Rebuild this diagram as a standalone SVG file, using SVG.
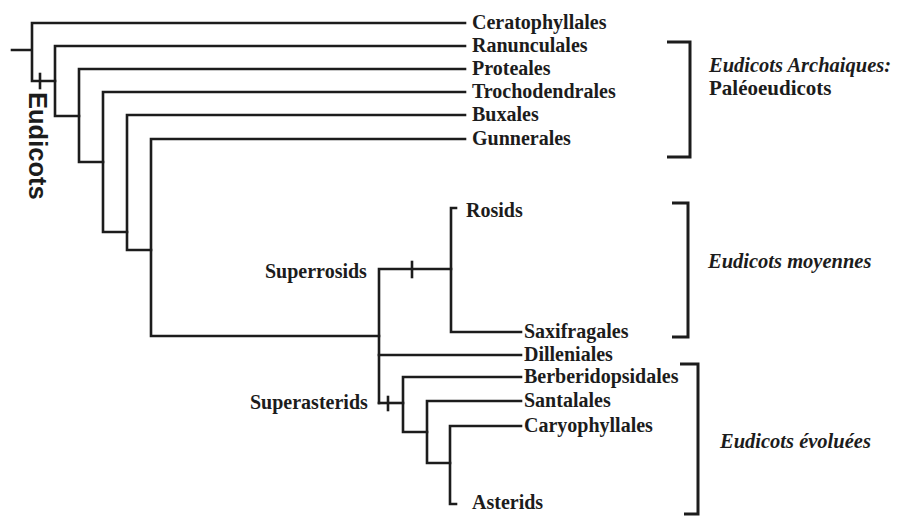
<svg xmlns="http://www.w3.org/2000/svg" width="898" height="517" viewBox="0 0 898 517">
  <style>
    .edge { fill: none; stroke: #1c1c1c; stroke-width: 2.6; stroke-linecap: square; }
    .brace { fill: none; stroke: #1c1c1c; stroke-width: 3; }
    .taxon { font-family: "Liberation Serif", "Times New Roman", serif; font-weight: bold; font-size: 20px; fill: #1c1c1c; }
    .group { font-family: "Liberation Serif", "Times New Roman", serif; font-weight: bold; font-style: italic; font-size: 20.5px; fill: #1c1c1c; }
    .clade { font-family: "Liberation Sans", Arial, sans-serif; font-weight: bold; font-size: 25.5px; fill: #1c1c1c; }
  </style>
  <rect width="898" height="517" fill="#ffffff"/>

  <!-- tree branches -->
  <g id="connectors">
    <path class="edge" d="M12,50 H32 M32,23 V81 M32,23 H465 M32,81 H55"/>
    <path class="edge" d="M40,74 V88"/>
    <path class="edge" d="M55,46 V116 M55,46 H465 M55,116 H79"/>
    <path class="edge" d="M79,69 V162 M79,69 H465 M79,162 H103"/>
    <path class="edge" d="M103,92 V232 M103,92 H465 M103,232 H127"/>
    <path class="edge" d="M127,115 V250 M127,115 H465 M127,250 H151"/>
    <path class="edge" d="M151,139 V336 M151,139 H465 M151,336 H379"/>
    <path class="edge" d="M379,269 V403 M379,269 H451"/>
    <path class="edge" d="M412,262 V277"/>
    <path class="edge" d="M451,208 V332 M451,208 H456 M451,332 H521"/>
    <path class="edge" d="M379,355 H521"/>
    <path class="edge" d="M379,403 H403"/>
    <path class="edge" d="M388,397 V410"/>
    <path class="edge" d="M403,377 V432 M403,377 H521 M403,432 H427"/>
    <path class="edge" d="M427,401 V463 M427,401 H521 M427,463 H450"/>
    <path class="edge" d="M450,426 V504 M450,426 H521 M450,504 H456"/>
  </g>

  <!-- clade label on the basal branch -->
  <g id="eudicots">
    <text class="clade" transform="translate(29,92) rotate(90)">Eudicots</text>
  </g>

  <!-- terminal taxa -->
  <g id="ceratophyllales"><text class="taxon" x="472" y="29">Ceratophyllales</text></g>
  <g id="ranunculales"><text class="taxon" x="472" y="52">Ranunculales</text></g>
  <g id="proteales"><text class="taxon" x="472" y="75">Proteales</text></g>
  <g id="trochodendrales"><text class="taxon" x="472" y="98">Trochodendrales</text></g>
  <g id="buxales"><text class="taxon" x="472" y="121">Buxales</text></g>
  <g id="gunnerales"><text class="taxon" x="472" y="145">Gunnerales</text></g>
  <g id="rosids"><text class="taxon" x="466" y="217">Rosids</text></g>
  <g id="saxifragales"><text class="taxon" x="524" y="338">Saxifragales</text></g>
  <g id="dilleniales"><text class="taxon" x="524" y="361">Dilleniales</text></g>
  <g id="berberidopsidales"><text class="taxon" x="524" y="383">Berberidopsidales</text></g>
  <g id="santalales"><text class="taxon" x="524" y="407">Santalales</text></g>
  <g id="caryophyllales"><text class="taxon" x="524" y="432">Caryophyllales</text></g>
  <g id="asterids"><text class="taxon" x="472" y="509">Asterids</text></g>

  <!-- internal node names -->
  <g id="superrosids"><text class="taxon" x="265" y="278">Superrosids</text></g>
  <g id="superasterids"><text class="taxon" x="250" y="409">Superasterids</text></g>

  <!-- grade brackets -->
  <g id="paleoeudicots">
    <path class="brace" d="M667,42 H690 V157 H667"/>
    <text class="group" x="709" y="72">Eudicots Archaiques:</text>
    <text class="taxon" x="709" y="95" style="font-size:21px">Paléoeudicots</text>
  </g>
  <g id="eudicots-moyennes">
    <path class="brace" d="M672,203 H688 V337 H672"/>
    <text class="group" x="708" y="268">Eudicots moyennes</text>
  </g>
  <g id="eudicots-evoluees">
    <path class="brace" d="M680,364 H698 V514 H684"/>
    <text class="group" x="720" y="448">Eudicots évoluées</text>
  </g>
</svg>
